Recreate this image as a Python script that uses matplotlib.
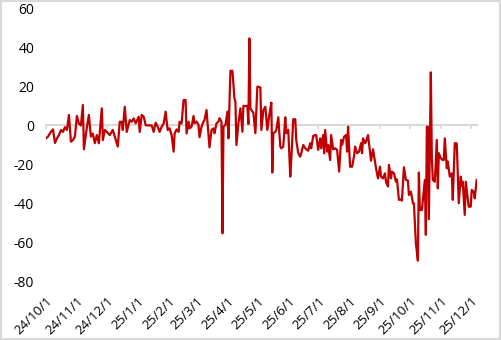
import matplotlib
matplotlib.use("Agg")
import matplotlib.pyplot as plt
from matplotlib.patches import Rectangle
import pandas as pd

plt.rcParams['font.family'] = ['Open Sans', 'DejaVu Sans']
plt.rcParams['axes.unicode_minus'] = False

dates = [
    "2024-10-01", "2024-10-03", "2024-10-06", "2024-10-08", "2024-10-10", "2024-10-12",
    "2024-10-14", "2024-10-16", "2024-10-18", "2024-10-20", "2024-10-22", "2024-10-24",
    "2024-10-26", "2024-10-28", "2024-10-30", "2024-11-01", "2024-11-03", "2024-11-05",
    "2024-11-07", "2024-11-08", "2024-11-11", "2024-11-13", "2024-11-15", "2024-11-17",
    "2024-11-19", "2024-11-21", "2024-11-23", "2024-11-26", "2024-11-27", "2024-11-29",
    "2024-12-01", "2024-12-04", "2024-12-07", "2024-12-09", "2024-12-12", "2024-12-14",
    "2024-12-16", "2024-12-17", "2024-12-19", "2024-12-21", "2024-12-24", "2024-12-26",
    "2024-12-28", "2024-12-30", "2025-01-02", "2025-01-03", "2025-01-05", "2025-01-07",
    "2025-01-09", "2025-01-13", "2025-01-15", "2025-01-17", "2025-01-19", "2025-01-21",
    "2025-01-23", "2025-01-25", "2025-01-27", "2025-01-29", "2025-01-31", "2025-02-02",
    "2025-02-04", "2025-02-06", "2025-02-07", "2025-02-09", "2025-02-11", "2025-02-12",
    "2025-02-14", "2025-02-16", "2025-02-18", "2025-02-19", "2025-02-21", "2025-02-22",
    "2025-02-24", "2025-02-26", "2025-02-27", "2025-03-01", "2025-03-03", "2025-03-04",
    "2025-03-06", "2025-03-08", "2025-03-09", "2025-03-11", "2025-03-13", "2025-03-14",
    "2025-03-16", "2025-03-18", "2025-03-19", "2025-03-21", "2025-03-23", "2025-03-24",
    "2025-03-26", "2025-03-27", "2025-03-28", "2025-03-30", "2025-04-01", "2025-04-02",
    "2025-04-04", "2025-04-06", "2025-04-08", "2025-04-09", "2025-04-10", "2025-04-12",
    "2025-04-14", "2025-04-16", "2025-04-17", "2025-04-19", "2025-04-21", "2025-04-22",
    "2025-04-23", "2025-04-24", "2025-04-26", "2025-04-27", "2025-04-29", "2025-05-01",
    "2025-05-04", "2025-05-05", "2025-05-07", "2025-05-09", "2025-05-10", "2025-05-11",
    "2025-05-13", "2025-05-15", "2025-05-16", "2025-05-17", "2025-05-19", "2025-05-20",
    "2025-05-22", "2025-05-24", "2025-05-25", "2025-05-27", "2025-05-29", "2025-05-30",
    "2025-06-01", "2025-06-03", "2025-06-04", "2025-06-06", "2025-06-08", "2025-06-09",
    "2025-06-11", "2025-06-13", "2025-06-14", "2025-06-16", "2025-06-18", "2025-06-19",
    "2025-06-21", "2025-06-23", "2025-06-24", "2025-06-26", "2025-06-28", "2025-06-29",
    "2025-07-01", "2025-07-03", "2025-07-04", "2025-07-06", "2025-07-07", "2025-07-08",
    "2025-07-10", "2025-07-11", "2025-07-13", "2025-07-14", "2025-07-16", "2025-07-18",
    "2025-07-20", "2025-07-22", "2025-07-24", "2025-07-25", "2025-07-27", "2025-07-29",
    "2025-07-30", "2025-07-31", "2025-08-02", "2025-08-04", "2025-08-06", "2025-08-07",
    "2025-08-09", "2025-08-11", "2025-08-13", "2025-08-14", "2025-08-15", "2025-08-17",
    "2025-08-18", "2025-08-20", "2025-08-22", "2025-08-23", "2025-08-25", "2025-08-27",
    "2025-08-28", "2025-08-30", "2025-09-01", "2025-09-02", "2025-09-04", "2025-09-06",
    "2025-09-07", "2025-09-09", "2025-09-10", "2025-09-12", "2025-09-13", "2025-09-15",
    "2025-09-17", "2025-09-18", "2025-09-20", "2025-09-22", "2025-09-23", "2025-09-25",
    "2025-09-27", "2025-09-29", "2025-09-30", "2025-10-02", "2025-10-04", "2025-10-05",
    "2025-10-07", "2025-10-09", "2025-10-10", "2025-10-11", "2025-10-13", "2025-10-14",
    "2025-10-16", "2025-10-17", "2025-10-18", "2025-10-19", "2025-10-20", "2025-10-22",
    "2025-10-23", "2025-10-24", "2025-10-26", "2025-10-28", "2025-10-29", "2025-10-30",
    "2025-11-01", "2025-11-03", "2025-11-04", "2025-11-05", "2025-11-07", "2025-11-08",
    "2025-11-10", "2025-11-12", "2025-11-13", "2025-11-15", "2025-11-17", "2025-11-18",
    "2025-11-19", "2025-11-21", "2025-11-22", "2025-11-23", "2025-11-25", "2025-11-26",
    "2025-11-27", "2025-11-29", "2025-12-01", "2025-12-02", "2025-12-04", "2025-12-05",
    "2025-12-07",
]

values = [
    -6.6, -5.7, -3.2, -2.0, -9.0, -6.6,
    -4.9, -2.3, -3.3, -0.9, -2.3, 5.4,
    -8.3, -7.5, -5.7, 4.9, 1.0, 0.0,
    10.5, -12.2, -0.9, 5.4, -5.7, -4.1,
    -9.1, -4.9, -9.1, 8.8, -7.5, -2.3,
    -3.3, -4.9, -2.3, -5.7, -10.8, 1.9,
    1.9, -2.3, 9.6, -3.3, 2.8, 1.9,
    3.6, 1.1, 4.5, -3.3, 5.4, 4.5,
    0.1, 0.0, 0.0, -3.3, 1.4, -0.6,
    -3.3, -0.6, 1.0, 7.1, -2.3, -1.5,
    -4.9, -13.4, -4.1, -2.0, -3.3, 1.9,
    1.0, 13.0, 13.0, -4.1, 1.9, -1.5,
    -0.6, 4.9, 1.1, 2.0, 0.3, -6.0,
    -0.6, 2.0, 2.8, 7.9, -4.9, -11.2,
    -2.3, -1.5, -4.0, 1.1, 2.0, 3.7,
    2.0, -55.2, -0.6, 0.3, 7.1, -6.6,
    28.0, 28.0, 13.9, 12.2, -10.0, 1.1,
    8.8, -3.2, 10.0, 10.0, 10.0, 0.8,
    44.6, 8.8, 7.1, 6.6, -4.0, 19.9,
    19.5, -2.3, 7.9, 9.6, 3.7, -2.3,
    5.4, 11.7, -24.1, -4.0, -3.2, -2.3,
    4.2, -10.8, -11.7, -10.8, 4.2, -4.0,
    -2.3, -26.2, -17.7, 3.2, 3.2, -7.4,
    -14.2, -16.0, -14.2, -10.0, -11.7, -12.2,
    -12.9, -9.1, -11.7, -5.4, -4.9, -4.9,
    -12.5, -6.6, -11.7, -4.9, -14.2, -2.3,
    -13.4, -10.0, -17.7, -4.9, -12.2, -11.7,
    -12.5, -23.6, -7.4, -10.0, -5.7, -4.9,
    -13.4, -0.6, -21.1, -21.1, -15.6, -10.8,
    -14.2, -13.4, -9.1, -14.2, -6.6, -9.1,
    -8.3, -4.9, -13.4, -18.0, -12.2, -18.5,
    -21.9, -27.1, -21.1, -26.2, -27.1, -24.5,
    -28.8, -31.3, -20.2, -27.1, -23.6, -24.5,
    -28.8, -27.6, -38.1, -37.8, -38.5, -21.4,
    -27.9, -28.2, -35.6, -33.9, -39.8, -39.8,
    -60.3, -69.2, -24.1, -43.3, -43.3, -38.1,
    -27.9, -56.0, -0.6, -0.6, -48.0, 27.2,
    -16.8, -27.9, -28.8, -7.4, -32.2, -14.2,
    -16.8, -17.7, -17.7, -6.6, -21.9, -18.5,
    -26.2, -24.5, -38.1, -9.1, -9.1, -24.5,
    -39.8, -26.2, -31.0, -28.8, -45.8, -28.8,
    -33.0, -41.6, -41.6, -33.0, -33.9, -37.3,
    -27.9,
]

tick_dates = ["2024-10-01", "2024-11-01", "2024-12-01", "2025-01-01", "2025-02-01",
              "2025-03-01", "2025-04-01", "2025-05-01", "2025-06-01", "2025-07-01",
              "2025-08-01", "2025-09-01", "2025-10-01", "2025-11-01", "2025-12-01"]
tick_labels = ["24/10/1", "24/11/1", "24/12/1", "25/1/1", "25/2/1", "25/3/1", "25/4/1",
               "25/5/1", "25/6/1", "25/7/1", "25/8/1", "25/9/1", "25/10/1", "25/11/1",
               "25/12/1"]
y_ticks = [60, 40, 20, 0, -20, -40, -60, -80]

x = pd.to_datetime(dates)
xt = pd.to_datetime(tick_dates)

fig = plt.figure(figsize=(5.01, 3.40), dpi=100)
ax = fig.add_axes([46/501, 1-281.7/340, (476.7-46)/501, (281.7-8.3)/340])

ax.plot(x, values, color='#C00000', lw=1.6, solid_joinstyle='round')

ax.set_xlim(pd.Timestamp("2024-10-01"), pd.Timestamp("2025-12-07"))
ax.set_ylim(-80, 60)
ax.set_yticks(y_ticks)
ax.set_yticklabels([str(v) for v in y_ticks])
ax.tick_params(axis='y', length=0, pad=8.5, labelsize=10, labelcolor='#000000')

for s in ['top', 'right', 'left']:
    ax.spines[s].set_visible(False)
ax.spines['bottom'].set_position(('data', 0))
ax.spines['bottom'].set_color('#d9d9d9')
ax.spines['bottom'].set_linewidth(1.5)
ax.spines['bottom'].set_zorder(0)
ax.set_xticks(xt)
ax.tick_params(axis='x', length=3, width=1.2, color='#d9d9d9', labelbottom=False)

sec = ax.secondary_xaxis('bottom')
sec.set_xticks(xt)
sec.set_xticklabels(tick_labels, rotation=45, ha='right', rotation_mode='anchor')
sec.tick_params(length=0, pad=9, labelsize=9.5, labelcolor='#000000')
sec.spines['bottom'].set_visible(False)

fig.patches.append(Rectangle((0, 0), 1, 1, transform=fig.transFigure, fill=False,
                             ec='#d9d9d9', lw=3))

fig.savefig("out.png", dpi=100)
